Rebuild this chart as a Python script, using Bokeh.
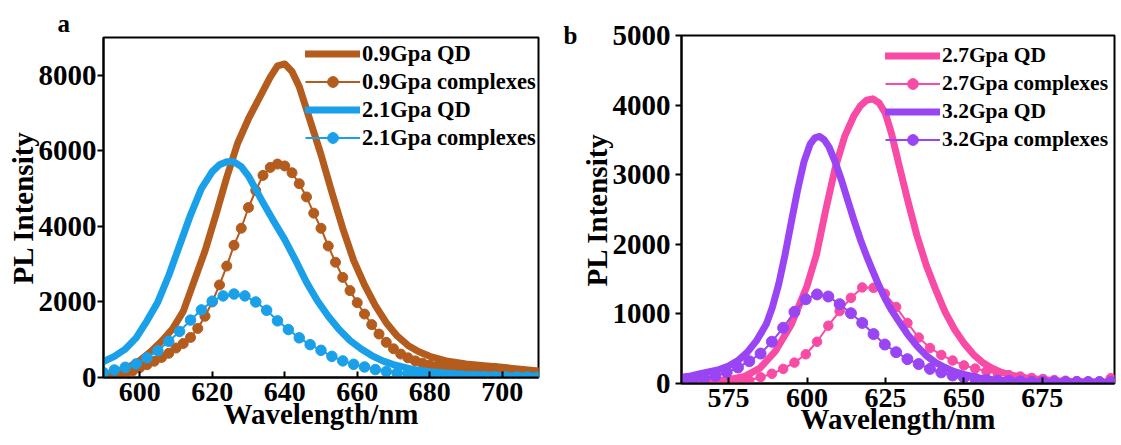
from bokeh.plotting import figure
from bokeh.layouts import row
from bokeh.models import Legend, LegendItem, Range1d, FixedTicker, LinearAxis
from bokeh.embed import file_html
from bokeh.resources import INLINE

FONT = "Liberation Serif"

# ---------------- panel a: 0.9 / 2.1 GPa ----------------
wl_qd_09 = [590, 592, 595, 598, 600, 603, 606, 609, 612, 615, 618, 621, 624, 627, 630,
            633, 636, 638, 640, 642, 644, 647, 650, 653, 656, 659, 662, 665, 668, 671,
            674, 677, 680, 685, 690, 695, 700, 705, 710]
pl_qd_09 = [30, 100, 200, 330, 450, 680, 960, 1280, 1750, 2550, 3350, 4300, 5300, 6200,
            6850, 7400, 7950, 8250, 8300, 8100, 7700, 6800, 5900, 4900, 3950, 3100, 2450,
            1900, 1450, 1100, 850, 680, 560, 430, 360, 310, 270, 220, 170]

wl_cx_09 = list(range(590, 711, 2))
pl_cx_09 = [0, 20, 60, 110, 170, 260, 340, 430, 530, 640, 780, 900, 1060, 1300, 1620,
            2000, 2450, 2950, 3500, 3950, 4500, 4950, 5350, 5560, 5650, 5600, 5420, 5130,
            4780, 4350, 3950, 3480, 3050, 2650, 2300, 1980, 1680, 1400, 1150, 930, 760, 620,
            520, 440, 380, 330, 300, 270, 250, 230, 220, 210, 200, 195, 240, 190, 170, 150,
            140, 130, 120]

wl_qd_21 = [590, 593, 596, 599, 602, 605, 608, 611, 614, 617, 620, 622, 624, 626, 628,
            630, 632, 634, 637, 640, 643, 646, 649, 652, 655, 658, 661, 664, 667, 670,
            675, 680, 685, 690, 700, 710]
pl_qd_21 = [420, 560, 750, 1050, 1500, 2000, 2700, 3500, 4300, 5000, 5450, 5630, 5710,
            5710, 5580, 5330, 4980, 4630, 4130, 3650, 3100, 2520, 2030, 1620, 1270, 980,
            760, 580, 440, 340, 220, 150, 110, 80, 50, 30]

wl_cx_21 = list(range(590, 711, 3))
pl_cx_21 = [130, 200, 270, 360, 520, 710, 960, 1220, 1520, 1790, 2020, 2160, 2210, 2160,
            2000, 1780, 1500, 1270, 1050, 870, 720, 560, 440, 350, 280, 210, 160, 120, 90,
            70, 55, 45, 35, 30, 25, 20, 18, 15, 12, 10, 8]

# ---------------- panel b: 2.7 / 3.2 GPa ----------------
wl_qd_27 = [560, 565, 570, 575, 580, 585, 590, 595, 600, 603, 606, 609, 612, 615, 617,
            619, 621, 623, 625, 627, 629, 632, 635, 638, 641, 644, 647, 650, 653, 656,
            659, 662, 665, 670, 675, 680, 685, 690, 698]
pl_qd_27 = [10, 20, 35, 55, 100, 220, 470, 850, 1400, 1850, 2500, 3100, 3550, 3850, 3990,
            4070, 4090, 4030, 3880, 3580, 3200, 2650, 2130, 1700, 1350, 1030, 780, 580, 420,
            300, 220, 160, 120, 80, 55, 40, 30, 25, 20]

wl_qd_32 = [560, 563, 566, 569, 572, 575, 578, 581, 584, 587, 589, 591, 593, 595, 597,
            599, 601, 602.5, 604, 605.5, 607, 609, 611, 613, 615, 617, 619, 621, 623, 625,
            627, 629, 632, 635, 638, 641, 644, 647, 650, 655, 660, 665, 670, 680, 690, 698]
pl_qd_32 = [90, 110, 140, 170, 200, 250, 330, 450, 620, 850, 1100, 1430, 1850, 2320, 2780,
            3180, 3440, 3530, 3550, 3500, 3400, 3180, 2920, 2630, 2340, 2070, 1830, 1610,
            1400, 1210, 1050, 910, 710, 540, 400, 300, 230, 170, 130, 80, 50, 35, 25, 15,
            10, 10]

wl_cx_b = [round(560 + 3.6 * i, 1) for i in range(39)]
pl_cx_27 = [10, 10, 12, 15, 18, 25, 45, 90, 140, 210, 300, 420, 600, 830, 1040, 1230, 1380,
            1375, 1290, 1100, 870, 660, 510, 410, 330, 260, 215, 175, 145, 120, 100, 80, 65,
            50, 40, 35, 30, 30, 75]
pl_cx_32 = [40, 55, 75, 110, 160, 230, 320, 430, 600, 800, 1030, 1210, 1280, 1250, 1140,
            1010, 870, 710, 560, 450, 350, 280, 210, 160, 115, 85, 65, 50, 40, 35, 30, 25, 25,
            20, 20, 20, 20, 20, 20]

BROWN = "#B35C1E"
BLUE = "#1AA0E8"
PINK = "#F84BA6"
PURPLE = "#9A45F3"


def make_panel(width, height, borders, xr, yr, xticks, yticks, series, legend_loc,
               legend_font, x_tick_standoff, x_label_standoff, y_tick_standoff, dot_sizes):
    left, right, top, bottom = borders
    p = figure(width=width, height=height, output_backend="svg", toolbar_location=None,
               x_range=Range1d(*xr), y_range=Range1d(*yr), frame_align=False,
               min_border_left=left, min_border_right=right,
               min_border_top=top, min_border_bottom=bottom)
    p.background_fill_color = "white"
    p.border_fill_color = "white"
    p.outline_line_color = "black"
    p.outline_line_width = 2
    p.xgrid.visible = False
    p.ygrid.visible = False

    items = []
    for (wl_q, pl_q, wl_c, pl_c, color, name), dsz in zip(series, dot_sizes):
        rq = p.line(wl_q, pl_q, line_color=color, line_width=7,
                    line_join="round", line_cap="round")
        rc_line = p.line(wl_c, pl_c, line_color=color, line_width=2)
        rc_dots = p.scatter(wl_c, pl_c, marker="circle", size=dsz,
                            fill_color=color, line_color=color)
        items.append(LegendItem(label=f"{name} QD", renderers=[rq]))
        items.append(LegendItem(label=f"{name} complexes", renderers=[rc_line, rc_dots]))

    leg = Legend(items=items, location=legend_loc, margin=0, padding=0, spacing=1,
                 glyph_width=55, glyph_height=27, label_height=27, label_standoff=2,
                 border_line_alpha=0, background_fill_alpha=0,
                 label_text_font=FONT, label_text_font_style="bold",
                 label_text_font_size=legend_font, label_text_color="black")
    p.add_layout(leg, "center")

    for ax in (p.xaxis[0], p.yaxis[0]):
        ax.axis_line_color = "black"
        ax.axis_line_width = 2
        ax.major_tick_line_color = "black"
        ax.major_tick_line_width = 2
        ax.minor_tick_line_color = None
        ax.major_label_text_font = FONT
        ax.major_label_text_font_style = "bold"
        ax.major_label_text_color = "black"
        ax.axis_label_text_font = FONT
        ax.axis_label_text_font_style = "bold"
        ax.axis_label_text_font_size = "29px"
        ax.axis_label_text_color = "black"
    p.xaxis.major_label_text_font_size = "28px"
    p.yaxis.major_label_text_font_size = "29px"

    p.xaxis.ticker = FixedTicker(ticks=xticks)
    p.yaxis.ticker = FixedTicker(ticks=yticks)
    p.xaxis.axis_label = "Wavelength/nm"
    p.yaxis.axis_label = "PL Intensity"
    p.xaxis.major_tick_in = 6
    p.xaxis.major_tick_out = 0
    p.yaxis.major_tick_in = 0
    p.yaxis.major_tick_out = 6
    p.xaxis.major_label_standoff = x_tick_standoff
    p.xaxis.axis_label_standoff = x_label_standoff
    p.yaxis.major_label_standoff = y_tick_standoff
    p.yaxis.axis_label_standoff = -3
    return p


pa = make_panel(
    560, 445, (103, 22, 37, 68), (590, 710), (0, 9000),
    [600, 620, 640, 660, 680, 700], [0, 2000, 4000, 6000, 8000],
    [(wl_qd_09, pl_qd_09, wl_cx_09, pl_cx_09, BROWN, "0.9Gpa"),
     (wl_qd_21, pl_qd_21, wl_cx_21, pl_cx_21, BLUE, "2.1Gpa")],
    (202, 226), "22.5px", 5, -6, 1, (10, 10.5))
# panel letter "a" above the frame, left of the axis
pa.title.text = "a"
pa.title.align = "left"
pa.title.offset = -46
pa.title.standoff = 1
pa.title.text_font = FONT
pa.title.text_font_style = "bold"
pa.title.text_font_size = "25px"
pa.title.text_color = "black"

pb = make_panel(
    561, 445, (113, 7, 35, 62), (560, 698), (0, 5000),
    [575, 600, 625, 650, 675], [0, 1000, 2000, 3000, 4000, 5000],
    [(wl_qd_27, pl_qd_27, wl_cx_b, pl_cx_27, PINK, "2.7Gpa"),
     (wl_qd_32, pl_qd_32, wl_cx_b, pl_cx_32, PURPLE, "3.2Gpa")],
    (204, 230), "21.5px", 5, -7, 5, (9.5, 11))
# panel letter "b" drawn as a label-only outer axis level with the top tick
letter_axis = LinearAxis(ticker=FixedTicker(ticks=[5000]),
                         major_label_overrides={5000: "b"},
                         axis_line_color=None, major_tick_line_color=None,
                         minor_tick_line_color=None, major_tick_in=0, major_tick_out=0,
                         major_label_standoff=0, major_label_text_font=FONT,
                         major_label_text_font_style="bold",
                         major_label_text_font_size="25px",
                         major_label_text_color="black")
pb.add_layout(letter_axis, "left")

layout = row(pa, pb, spacing=0)
open("out.html", "w").write(file_html(layout, INLINE))
